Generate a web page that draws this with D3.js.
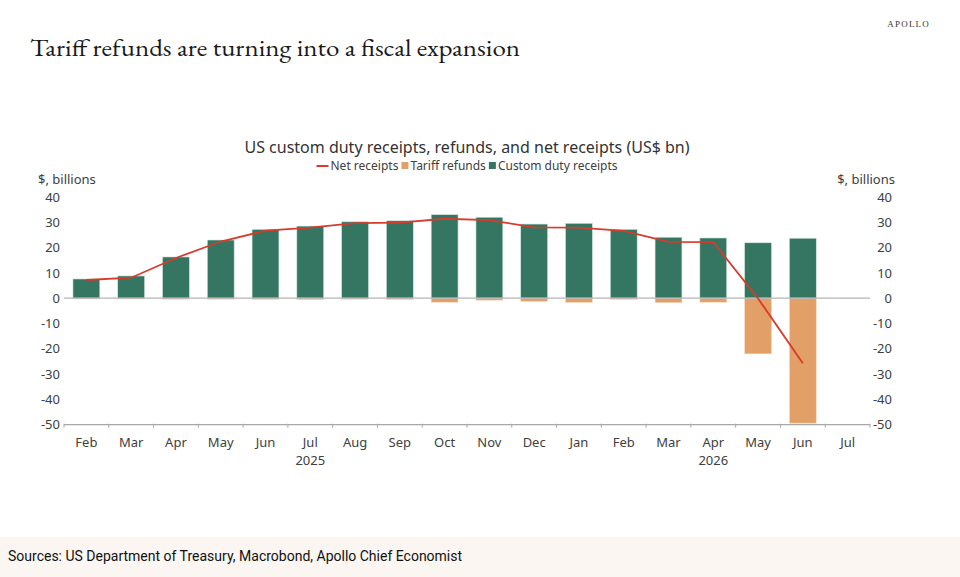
<!DOCTYPE html>
<html>
<head>
<meta charset="utf-8">
<script src="https://cdn.jsdelivr.net/npm/d3@7"></script>
<style>
  body { margin: 0; background: #fff; }
  svg { display: block; }
  .tick text { font-family: "Segoe UI", "Noto Sans", sans-serif; }
</style>
</head>
<body>
<div id="chart"></div>
<script>
// Width and height
var w = 960;
var h = 577;

// months Feb 2025 .. Jul 2026
var months = ["Feb","Mar","Apr","May","Jun","Jul","Aug","Sep","Oct","Nov","Dec",
              "Jan","Feb","Mar","Apr","May","Jun","Jul"];
var years = [{ label: "2025", at: 5 }, { label: "2026", at: 14 }];

// US$ bn (null = no data yet)
var receipts = [7.6, 8.8, 16.3, 23.0, 27.2, 28.5, 30.2, 30.6, 33.0, 32.0, 29.3,
                29.6, 27.2, 24.1, 23.8, 21.9, 23.7, null];
var refunds  = [-0.3, -0.3, -0.4, -0.4, -0.5, -0.6, -0.4, -0.5, -1.6, -0.8, -1.3,
                -1.7, -0.5, -1.8, -1.6, -22.0, -49.4, null];
var net      = [7.2, 8.1, 15.9, 22.4, 26.7, 27.9, 29.7, 29.9, 31.4, 30.9, 28.0,
                27.9, 26.6, 22.3, 22.2, -0.1, -25.7, null];

var yTicks = [40, 30, 20, 10, 0, -10, -20, -30, -40, -50];

var green = "#357662", orange = "#e2a068", red = "#d93a2b";
var sans = "'Segoe UI', 'Noto Sans', sans-serif";

var svg = d3.select("#chart").append("svg")
  .attr("width", w)
  .attr("height", h);

// page title + logo
svg.append("text")
  .attr("x", 30).attr("y", 56)
  .attr("font-family", "'EB Garamond', 'Liberation Serif', serif")
  .attr("font-size", 25)
  .attr("fill", "#1a1a1a")
  .attr("textLength", 490)
  .attr("lengthAdjust", "spacingAndGlyphs")
  .text("Tariff refunds are turning into a fiscal expansion");

svg.append("text")
  .attr("x", 930).attr("y", 27)
  .attr("text-anchor", "end")
  .attr("font-family", "'Liberation Serif', serif")
  .attr("font-size", 9)
  .attr("letter-spacing", 1.2)
  .attr("fill", "#333")
  .text("APOLLO");

// footer band
svg.append("rect")
  .attr("x", 0).attr("y", 537)
  .attr("width", w).attr("height", h - 537)
  .attr("fill", "#fbf6f2");

svg.append("text")
  .attr("x", 8).attr("y", 561)
  .attr("font-family", "Roboto, sans-serif")
  .attr("font-size", 14)
  .attr("fill", "#111")
  .text("Sources: US Department of Treasury, Macrobond, Apollo Chief Economist");

// chart title
svg.append("text")
  .attr("x", 467).attr("y", 153)
  .attr("text-anchor", "middle")
  .attr("font-family", sans)
  .attr("font-size", 16)
  .attr("fill", "#333")
  .text("US custom duty receipts, refunds, and net receipts (US$ bn)");

// scales
var x = d3.scaleBand()
  .domain(d3.range(months.length))
  .range([64, 870])
  .paddingInner(0.4)
  .paddingOuter(0.2);

var y = d3.scaleLinear()
  .domain([-50, 40])
  .range([424.7, 197]);

// y axes (labels only), plain hyphen for negatives
var fmt = function(d) { return String(d); };
var yLeft = svg.append("g")
  .attr("transform", "translate(64,0)")
  .call(d3.axisLeft(y).tickValues(yTicks).tickFormat(fmt).tickSize(0).tickPadding(4));
var yRight = svg.append("g")
  .attr("transform", "translate(892,0)")
  .call(d3.axisLeft(y).tickValues(yTicks).tickFormat(fmt).tickSize(0).tickPadding(0));
[yLeft, yRight].forEach(function(g) {
  g.select(".domain").remove();
  g.selectAll("text").attr("font-size", 13).attr("fill", "#404040");
});

svg.append("text")
  .attr("x", 38).attr("y", 184)
  .attr("font-family", sans).attr("font-size", 13).attr("fill", "#404040")
  .text("$, billions");
svg.append("text")
  .attr("x", 895).attr("y", 184)
  .attr("text-anchor", "end")
  .attr("font-family", sans).attr("font-size", 13).attr("fill", "#404040")
  .text("$, billions");

// bars
var idx = d3.range(months.length).filter(function(i) { return receipts[i] !== null; });

svg.selectAll(".receipt")
  .data(idx)
  .enter()
  .append("rect")
  .attr("class", "receipt")
  .attr("x", function(i) { return x(i); })
  .attr("width", x.bandwidth())
  .attr("y", function(i) { return y(receipts[i]); })
  .attr("height", function(i) { return y(0) - y(receipts[i]); })
  .attr("fill", green)
  .attr("stroke", "#cfe3db")
  .attr("stroke-width", 0.6);

svg.selectAll(".refund")
  .data(idx)
  .enter()
  .append("rect")
  .attr("class", "refund")
  .attr("x", function(i) { return x(i); })
  .attr("width", x.bandwidth())
  .attr("y", y(0))
  .attr("height", function(i) { return y(refunds[i]) - y(0); })
  .attr("fill", orange)
  .attr("stroke", "#f6dcc6")
  .attr("stroke-width", 0.6);

// zero line
svg.append("line")
  .attr("x1", 64).attr("x2", 870)
  .attr("y1", y(0)).attr("y2", y(0))
  .attr("stroke", "#b5b5b5")
  .attr("stroke-width", 1.2);

// net receipts line
var line = d3.line()
  .defined(function(d) { return d !== null; })
  .x(function(d, i) { return x(i) + x.bandwidth() / 2; })
  .y(function(d) { return y(d); });

svg.append("path")
  .datum(net)
  .attr("d", line)
  .attr("fill", "none")
  .attr("stroke", red)
  .attr("stroke-width", 1.8);

// x axis at bottom with ticks between months
var xAxisG = svg.append("g")
  .attr("transform", "translate(0," + y(-50) + ")");
xAxisG.append("line")
  .attr("x1", 64).attr("x2", 870)
  .attr("stroke", "#a8a8a8").attr("stroke-width", 1.2);
xAxisG.selectAll(".xtick")
  .data(d3.range(months.length + 1))
  .enter()
  .append("line")
  .attr("class", "xtick")
  .attr("x1", function(i) { return 64 + i * x.step(); })
  .attr("x2", function(i) { return 64 + i * x.step(); })
  .attr("y1", -1).attr("y2", 3)
  .attr("stroke", "#a8a8a8");
xAxisG.selectAll(".mlabel")
  .data(months)
  .enter()
  .append("text")
  .attr("class", "mlabel")
  .attr("x", function(d, i) { return x(i) + x.bandwidth() / 2; })
  .attr("y", 22)
  .attr("text-anchor", "middle")
  .attr("font-family", sans).attr("font-size", 13).attr("fill", "#404040")
  .text(function(d) { return d; });
xAxisG.selectAll(".ylabel")
  .data(years)
  .enter()
  .append("text")
  .attr("class", "ylabel")
  .attr("x", function(d) { return x(d.at) + x.bandwidth() / 2; })
  .attr("y", 40)
  .attr("text-anchor", "middle")
  .attr("font-family", sans).attr("font-size", 13).attr("fill", "#404040")
  .text(function(d) { return d.label; });

// legend, centred under the title
var legendItems = [
  { name: "Net receipts", color: red, kind: "line" },
  { name: "Tariff refunds", color: orange, kind: "box" },
  { name: "Custom duty receipts", color: green, kind: "box" }
];
var legend = svg.append("g").attr("class", "legend");
var lx = 0;
legendItems.forEach(function(d) {
  var g = legend.append("g").attr("transform", "translate(" + lx + ",0)");
  var sw;
  if (d.kind === "line") {
    g.append("line").attr("x1", 0).attr("x2", 12).attr("y1", -4).attr("y2", -4)
      .attr("stroke", d.color).attr("stroke-width", 2);
    sw = 14;
  } else {
    g.append("rect").attr("x", 0).attr("y", -8).attr("width", 7).attr("height", 7)
      .attr("fill", d.color);
    sw = 9;
  }
  var t = g.append("text").attr("x", sw).attr("y", 0)
    .attr("font-family", sans).attr("font-size", 12).attr("fill", "#404040")
    .text(d.name);
  lx += sw + t.node().getComputedTextLength() + 3;
});
legend.attr("transform", "translate(" + (467 - (lx - 3) / 2) + ",170)");
</script>
</body>
</html>
